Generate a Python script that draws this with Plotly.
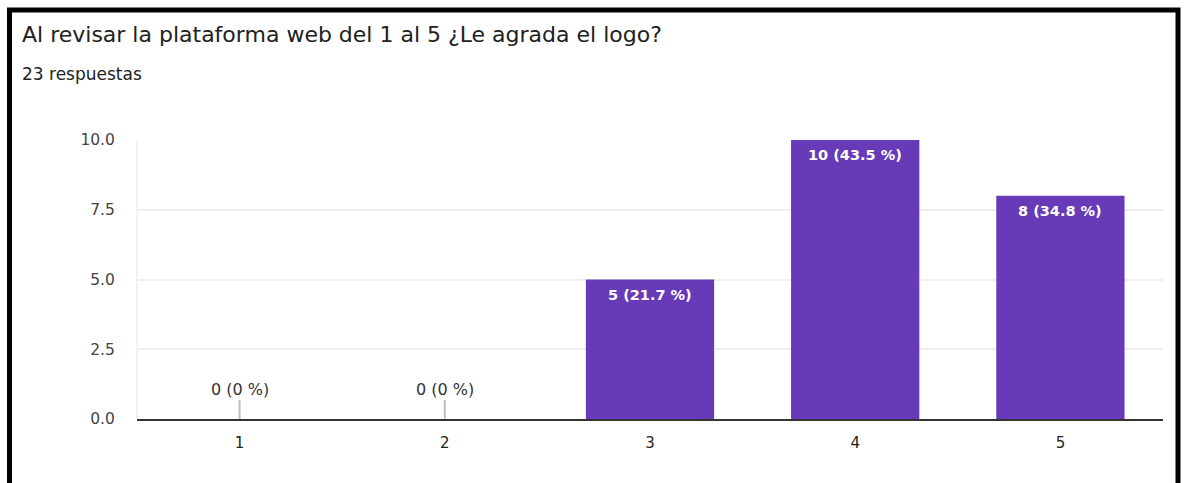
import plotly.graph_objects as go

# Survey question data
title_text = "Al revisar la plataforma web del 1 al 5 ¿Le agrada el logo?"
subtitle_text = "23 respuestas"
categories = ["1", "2", "3", "4", "5"]
counts = [0, 0, 5, 10, 8]
y_ticks = [0, 2.5, 5, 7.5, 10]
y_tick_labels = ["0.0", "2.5", "5.0", "7.5", "10.0"]

total = sum(counts)
labels = []
for c in counts:
    pct = round(100 * c / total, 1) if total else 0
    pct_txt = f"{pct:g}" if c else "0"
    labels.append(f"{c} ({pct_txt} %)")

W, H = 1184, 483
L, R, T, B = 137, 21, 140, 64
PURPLE = "#673ab7"
FONT = "DejaVu Sans, Arial, sans-serif"

positions = list(range(len(categories)))

fig = go.Figure(
    go.Bar(
        x=positions,
        y=counts,
        marker=dict(color=PURPLE, line=dict(width=0)),
        width=0.625,
        hoverinfo="skip",
    )
)

annotations = []
shapes = []
for pos, c, lab in zip(positions, counts, labels):
    if c > 0:
        annotations.append(dict(
            x=pos, y=c, xref="x", yref="y", text=f"<b>{lab}</b>", showarrow=False,
            yanchor="top", yshift=-5,
            font=dict(family=FONT, size=14.5, color="white"),
        ))
    else:
        # small stub marking an empty category
        shapes.append(dict(
            type="line", xref="x", yref="y", x0=pos, x1=pos,
            ysizemode="pixel", yanchor=0, y0=0, y1=19,
            line=dict(color="#bdbdbd", width=2),
        ))
        annotations.append(dict(
            x=pos, y=0, xref="x", yref="y", text=lab, showarrow=False,
            yanchor="bottom", yshift=18,
            font=dict(family=FONT, size=16, color="#333333"),
        ))

pw = W - L - R
ph = H - T - B


def px_x(p):
    return (p - L) / pw


def px_y(p):
    return 1 - (p - T) / ph


# title and response count
annotations.append(dict(
    x=px_x(20), y=px_y(35), xref="paper", yref="paper", text=title_text,
    showarrow=False, xanchor="left", yanchor="middle",
    font=dict(family=FONT, size=22, color="#212121"),
))
annotations.append(dict(
    x=px_x(20), y=px_y(74), xref="paper", yref="paper", text=subtitle_text,
    showarrow=False, xanchor="left", yanchor="middle",
    font=dict(family=FONT, size=17, color="#212121"),
))

# outer frame
shapes.append(dict(
    type="rect", xref="paper", yref="paper",
    x0=px_x(9.5), x1=px_x(1178), y0=px_y(520), y1=px_y(10),
    line=dict(color="black", width=5), fillcolor="rgba(0,0,0,0)", layer="above",
))
# light left edge of plot area
shapes.append(dict(
    type="line", xref="paper", yref="y", x0=0, x1=0, y0=0, y1=10,
    line=dict(color="#eeeeee", width=1.5), layer="below",
))

fig.update_layout(
    width=W, height=H,
    margin=dict(l=L, r=R, t=T, b=B, pad=0),
    paper_bgcolor="white",
    plot_bgcolor="white",
    showlegend=False,
    font=dict(family=FONT, size=15, color="#444444"),
    xaxis=dict(
        range=[-0.5, len(categories) - 0.5],
        tickvals=positions, ticktext=categories,
        showgrid=False, showline=True, linecolor="#333333", linewidth=1.5,
        ticks="outside", ticklen=9, tickcolor="rgba(0,0,0,0)",
        tickfont=dict(size=15, color="#222222"),
        zeroline=False, fixedrange=True,
    ),
    yaxis=dict(
        range=[0, 10], tickvals=y_ticks, ticktext=y_tick_labels,
        showgrid=True, gridcolor="#eeeeee", gridwidth=1.5, zeroline=False,
        showline=False, ticks="outside", ticklen=18, tickcolor="rgba(0,0,0,0)",
        tickfont=dict(size=15.5, color="#444444"), fixedrange=True,
    ),
    annotations=annotations,
    shapes=shapes,
)

fig.write_html("out.html")
